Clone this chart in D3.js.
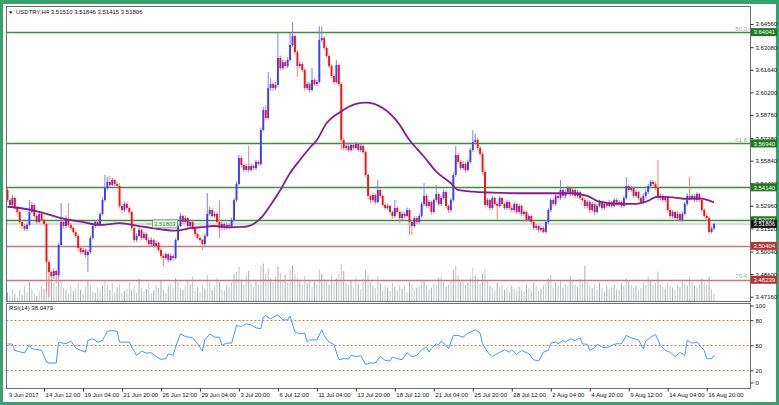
<!DOCTYPE html>
<html>
<head>
<meta charset="utf-8">
<script src="https://d3js.org/d3.v7.min.js"></script>
<style>
  body { margin: 0; background: #fff; }
  svg text { font-family: "Liberation Sans", Arial, sans-serif; font-size: 6px; fill: #111; }
</style>
</head>
<body>
<svg id="chart" width="779" height="405"></svg>
<script>
const d3 = window.d3;

// USDTRY H4, closes per bar (open = previous close)
const firstOpen = 3.5397;
const closes = [
  3.5333,3.5301,3.5346,3.5282,3.5257,3.5193,3.5167,3.5148,3.5174,3.5257,
  3.5301,3.5231,3.5193,3.5244,3.5206,3.5180,3.4937,3.4873,3.4848,3.4880,
  3.4854,3.5046,3.5193,3.5167,3.5212,3.5174,3.5155,3.5129,3.5104,3.5027,
  3.5001,3.5014,3.4982,3.5001,3.5091,3.5167,3.5193,3.5180,3.5244,3.5333,
  3.5410,3.5448,3.5429,3.5461,3.5435,3.5422,3.5295,3.5269,3.5308,3.5282,
  3.5257,3.5155,3.5078,3.5104,3.5142,3.5091,3.5116,3.5078,3.5052,3.5078,
  3.5040,3.5059,3.5014,3.4976,3.4963,3.4988,3.4950,3.4976,3.4963,3.5078,
  3.5167,3.5231,3.5193,3.5218,3.5167,3.5193,3.5155,3.5116,3.5091,3.5078,
  3.5052,3.5104,3.5244,3.5269,3.5231,3.5244,3.5193,3.5155,3.5180,3.5155,
  3.5174,3.5167,3.5206,3.5333,3.5435,3.5601,3.5556,3.5525,3.5550,3.5525,
  3.5550,3.5537,3.5576,3.5563,3.5780,3.5907,3.5856,3.6048,3.6073,3.6048,
  3.6067,3.6239,3.6175,3.6213,3.6188,3.6226,3.6322,3.6379,3.6277,3.6188,
  3.6201,3.6162,3.6048,3.6073,3.6035,3.6099,3.6073,3.6086,3.6354,3.6367,
  3.6303,3.6252,3.6188,3.6124,3.6086,3.6194,3.6073,3.5716,3.5665,3.5678,
  3.5652,3.5684,3.5665,3.5690,3.5652,3.5678,3.5639,3.5493,3.5359,3.5333,
  3.5365,3.5320,3.5397,3.5359,3.5301,3.5282,3.5295,3.5257,3.5231,3.5282,
  3.5257,3.5218,3.5244,3.5231,3.5269,3.5193,3.5167,3.5218,3.5193,3.5231,
  3.5308,3.5359,3.5295,3.5320,3.5257,3.5333,3.5371,3.5308,3.5346,3.5384,
  3.5295,3.5269,3.5333,3.5493,3.5620,3.5576,3.5537,3.5563,3.5525,3.5576,
  3.5652,3.5703,3.5716,3.5665,3.5627,3.5512,3.5301,3.5333,3.5282,3.5346,
  3.5308,3.5295,3.5346,3.5308,3.5282,3.5320,3.5282,3.5269,3.5308,3.5257,
  3.5295,3.5244,3.5257,3.5206,3.5231,3.5193,3.5155,3.5167,3.5142,3.5155,
  3.5129,3.5193,3.5269,3.5333,3.5308,3.5359,3.5346,3.5397,3.5359,3.5384,
  3.5410,3.5371,3.5397,3.5359,3.5384,3.5346,3.5333,3.5295,3.5320,3.5269,
  3.5308,3.5257,3.5295,3.5320,3.5282,3.5308,3.5295,3.5320,3.5295,3.5333,
  3.5308,3.5320,3.5295,3.5346,3.5422,3.5397,3.5410,3.5359,3.5384,3.5346,
  3.5320,3.5359,3.5384,3.5422,3.5448,3.5435,3.5410,3.5346,3.5359,3.5333,
  3.5346,3.5269,3.5231,3.5257,3.5218,3.5244,3.5206,3.5244,3.5308,3.5359,
  3.5346,3.5359,3.5333,3.5371,3.5333,3.5269,3.5231,3.5218,3.5129,3.5151,
  3.51806
];
const highs = [
  3.5410,3.5346,3.5365,3.5355,3.5295,3.5265,3.5205,3.5180,3.5185,3.5333,
  3.5320,3.5310,3.5240,3.5260,3.5255,3.5215,3.5190,3.4950,3.4885,3.4895,
  3.4890,3.5060,3.5314,3.5210,3.5235,3.5314,3.5185,3.5165,3.5140,3.5115,
  3.5040,3.5030,3.5025,3.5015,3.5105,3.5180,3.5205,3.5215,3.5255,3.5350,
  3.5493,3.5480,3.5486,3.5475,3.5470,3.5450,3.5440,3.5310,3.5325,3.5320,
  3.5295,3.5265,3.5165,3.5120,3.5160,3.5150,3.5130,3.5125,3.5090,3.5095,
  3.5085,3.5075,3.5065,3.5025,3.4990,3.5000,3.4995,3.4990,3.4985,3.5090,
  3.5180,3.5250,3.5240,3.5235,3.5225,3.5210,3.5200,3.5165,3.5125,3.5100,
  3.5085,3.5115,3.5378,3.5290,3.5280,3.5260,3.5255,3.5333,3.5195,3.5190,
  3.5190,3.5185,3.5220,3.5345,3.5450,3.5620,3.5615,3.5565,3.5565,3.5678,
  3.5565,3.5560,3.5590,3.5585,3.5795,3.5925,3.5940,3.6150,3.6110,3.6085,
  3.6085,3.6399,3.6255,3.6230,3.6225,3.6245,3.6399,3.6469,3.6390,3.6290,
  3.6220,3.6215,3.6175,3.6090,3.6085,3.6175,3.6110,3.6100,3.6443,3.6440,
  3.6380,3.6315,3.6265,3.6200,3.6135,3.6226,3.6205,3.6085,3.5730,3.5700,
  3.5690,3.5700,3.5695,3.5705,3.5700,3.5690,3.5690,3.5650,3.5505,3.5370,
  3.5380,3.5375,3.5461,3.5410,3.5370,3.5315,3.5310,3.5305,3.5265,3.5333,
  3.5295,3.5265,3.5260,3.5255,3.5285,3.5280,3.5205,3.5230,3.5230,3.5245,
  3.5320,3.5441,3.5370,3.5335,3.5330,3.5345,3.5429,3.5380,3.5360,3.5400,
  3.5395,3.5305,3.5345,3.5505,3.5678,3.5635,3.5590,3.5580,3.5575,3.5590,
  3.5665,3.5780,3.5755,3.5730,3.5680,3.5640,3.5525,3.5345,3.5345,3.5360,
  3.5355,3.5320,3.5360,3.5355,3.5320,3.5335,3.5330,3.5295,3.5320,3.5315,
  3.5310,3.5305,3.5270,3.5265,3.5245,3.5240,3.5200,3.5180,3.5175,3.5170,
  3.5165,3.5205,3.5280,3.5345,3.5345,3.5375,3.5370,3.5461,3.5410,3.5400,
  3.5425,3.5420,3.5410,3.5410,3.5400,3.5395,3.5360,3.5345,3.5335,3.5330,
  3.5320,3.5315,3.5310,3.5335,3.5330,3.5320,3.5320,3.5335,3.5330,3.5345,
  3.5345,3.5335,3.5330,3.5360,3.5480,3.5435,3.5425,3.5420,3.5400,3.5395,
  3.5360,3.5375,3.5400,3.5435,3.5461,3.5465,3.5450,3.5588,3.5375,3.5370,
  3.5360,3.5355,3.5280,3.5270,3.5265,3.5260,3.5255,3.5260,3.5320,3.5375,
  3.5480,3.5370,3.5370,3.5385,3.5380,3.5345,3.5280,3.5245,3.5230,3.5165,
  3.51846
];
const lows = [
  3.5320,3.5288,3.5290,3.5270,3.5240,3.5180,3.5150,3.5135,3.5138,3.5165,
  3.5245,3.5220,3.5180,3.5185,3.5195,3.5165,3.4740,3.4714,3.4835,3.4830,
  3.4800,3.4840,3.5035,3.5150,3.5155,3.5160,3.5140,3.5115,3.5090,3.5010,
  3.4985,3.4990,3.4965,3.4874,3.4990,3.5080,3.5155,3.5165,3.5170,3.5235,
  3.5320,3.5395,3.5415,3.5420,3.5420,3.5410,3.5280,3.5250,3.5255,3.5270,
  3.5240,3.5140,3.5060,3.5065,3.5095,3.5075,3.5080,3.5065,3.5040,3.5040,
  3.5025,3.5030,3.5000,3.4960,3.4912,3.4950,3.4935,3.4940,3.4945,3.4955,
  3.5070,3.5160,3.5180,3.5185,3.5150,3.5155,3.5140,3.5100,3.5080,3.5065,
  3.5014,3.5040,3.5095,3.5230,3.5220,3.5220,3.5180,3.5091,3.5140,3.5140,
  3.5145,3.5150,3.5155,3.5195,3.5320,3.5425,3.5540,3.5510,3.5515,3.5510,
  3.5515,3.5525,3.5525,3.5550,3.5550,3.5770,3.5840,3.5845,3.6030,3.6030,
  3.6035,3.6055,3.6160,3.6160,3.6170,3.6175,3.6215,3.6310,3.6260,3.6118,
  3.6175,3.6150,3.6030,3.6035,3.6020,3.6025,3.6060,3.6060,3.6075,3.6340,
  3.6290,3.6240,3.6175,3.6110,3.6070,3.6075,3.6060,3.5652,3.5650,3.5650,
  3.5640,3.5640,3.5650,3.5655,3.5640,3.5640,3.5625,3.5480,3.5340,3.5310,
  3.5320,3.5305,3.5310,3.5345,3.5290,3.5270,3.5270,3.5240,3.5215,3.5220,
  3.5245,3.5186,3.5205,3.5215,3.5220,3.5110,3.5110,3.5155,3.5180,3.5180,
  3.5220,3.5295,3.5280,3.5285,3.5240,3.5245,3.5320,3.5295,3.5295,3.5335,
  3.5280,3.5250,3.5255,3.5320,3.5480,3.5560,3.5520,3.5525,3.5510,3.5515,
  3.5565,3.5640,3.5690,3.5650,3.5610,3.5495,3.5285,3.5290,3.5265,3.5270,
  3.5295,3.5206,3.5285,3.5295,3.5270,3.5270,3.5270,3.5255,3.5255,3.5240,
  3.5245,3.5230,3.5230,3.5190,3.5195,3.5180,3.5140,3.5140,3.5125,3.5130,
  3.5120,3.5120,3.5180,3.5255,3.5295,3.5295,3.5330,3.5335,3.5345,3.5345,
  3.5370,3.5355,3.5360,3.5345,3.5345,3.5330,3.5320,3.5280,3.5280,3.5250,
  3.5255,3.5235,3.5245,3.5285,3.5270,3.5270,3.5280,3.5285,3.5280,3.5285,
  3.5295,3.5295,3.5280,3.5285,3.5335,3.5385,3.5385,3.5345,3.5345,3.5330,
  3.5305,3.5310,3.5345,3.5370,3.5410,3.5420,3.5395,3.5330,3.5330,3.5320,
  3.5320,3.5255,3.5215,3.5215,3.5200,3.5205,3.5195,3.5195,3.5235,3.5295,
  3.5330,3.5335,3.5320,3.5320,3.5320,3.5255,3.5215,3.5200,3.5115,3.5120,
  3.51415
];
const volumes = [
  300,180,420,260,150,380,220,500,310,640, 420,260,180,350,520,410,880,760,940,620,
  510,880,700,450,380,260,520,340,430,610, 390,250,480,720,560,330,290,460,380,520,
  690,540,380,620,300,470,560,280,350,420, 610,380,520,290,760,450,330,410,600,280,
  370,520,460,700,390,280,520,600,430,780, 640,450,380,520,710,560,820,340,470,300,
  560,420,880,630,380,520,780,640,410,360, 550,470,620,900,980,1150,720,560,840,1000,
  620,480,710,560,1180,1250,900,1100,760,640, 820,1150,940,700,880,620,1080,1200,900,760,
  680,540,840,620,720,500,660,580,1060,920, 740,680,560,880,640,760,900,1240,1000,620,
  540,700,460,820,580,400,760,1020,880,640, 520,440,840,600,380,520,460,340,620,480,
  360,540,420,500,300,640,560,380,460,520, 660,720,520,400,460,600,560,780,820,640,
  480,560,700,1040,1180,860,640,720,560,620, 800,1120,860,740,580,920,1060,700,520,440,
  360,620,480,540,380,460,300,520,420,360, 480,400,340,560,440,380,620,500,360,420,
  540,620,760,880,460,620,540,700,460,580, 520,820,660,560,480,740,580,1180,640,520,
  440,560,380,620,460,340,520,400,480,560, 420,380,600,520,780,660,540,460,520,380,
  440,600,540,820,700,560,620,980,560,480, 420,600,520,460,380,540,480,700,600,520,
  820,640,520,460,580,760,640,560,820,420, 260
];
// moving average, read at [bar, price]
const maPoints = [
  [0,3.5290],[5,3.5282],[13,3.5258],[22,3.5218],[30,3.5195],[38,3.5174],[46,3.5185],
  [54,3.5167],[63,3.5146],[69,3.5137],[75,3.5153],[79,3.5159],[85,3.5167],[91,3.5159],
  [97,3.5161],[104,3.5217],[108,3.5301],[112,3.5397],[116,3.5505],[120,3.5588],
  [124,3.5665],[127,3.5716],[131,3.5824],[136,3.5888],[143,3.5946],[147,3.5954],
  [154,3.5920],[160,3.5833],[165,3.5716],[171,3.5609],[176,3.5514],[182,3.5440],
  [185,3.5397],[191,3.5386],[199,3.5380],[210,3.5376],[224,3.5376],[231,3.5376],
  [238,3.5359],[243,3.5322],[251,3.5308],[258,3.5308],[262,3.5322],[267,3.5354],
  [273,3.5350],[279,3.5340],[284,3.5344],[290,3.5318]
];
// RSI(14), read at [bar, value]
const rsiPoints = [
  [0,51.5],[2,51.5],[3,43.6],[4,43],[7,40.6],[9,50.6],[10,45.8],[13,44.6],[14,43.8],[16,29.9],
  [17,28.7],[20,28.7],[21,53.7],[24,51.8],[26,55],[28,47],[30,43.8],[32,41.8],[33,55.7],[35,57.7],
  [37,53.7],[39,55.7],[41,66.8],[43,67.5],[45,66.8],[46,53.7],[50,53.7],[51,47.8],[53,37.9],[55,43],
  [57,40.6],[59,41],[61,36.6],[63,33],[65,33.9],[66,39.8],[68,37.9],[69,47.8],[71,63.6],[73,60.5],
  [76,58.9],[78,51.8],[80,43],[81,56.4],[83,63.6],[85,59.6],[87,59.6],[88,49.8],[90,52.5],[92,52.5],
  [94,73.6],[96,72.4],[98,75.6],[100,74.4],[102,70.9],[104,69.7],[105,83.6],[106,85.5],[108,81.5],[109,83.6],
  [111,86.3],[113,80.4],[115,80.4],[116,84.8],[118,65.7],[120,63.7],[122,64.5],[123,53.8],[124,56.4],[127,56.4],
  [129,68.5],[130,61.7],[132,53.7],[134,51],[136,32.7],[138,33.9],[140,33.5],[141,37.9],[143,36.6],[145,37.4],
  [147,27],[149,28.7],[151,28.7],[153,36.6],[155,31.9],[157,31],[158,35.9],[160,33.9],[162,32.7],[164,41],
  [166,35.9],[168,37.9],[170,44.6],[172,47.8],[173,41.8],[174,45.8],[176,51.8],[177,50.6],[178,55],[180,49.8],
  [181,45.8],[183,61.7],[185,61.7],[187,59.7],[189,64.5],[192,68.5],[194,64.5],[195,51.8],[197,41.8],[199,36.6],
  [201,39.8],[204,44.6],[206,41.8],[207,44.6],[209,39],[211,43.8],[214,39.8],[216,32.7],[218,31],[220,41.8],
  [222,43.8],[223,52.6],[225,53.8],[226,51.8],[228,55.7],[229,53.8],[231,57.7],[233,55.7],[235,58.9],[236,51.8],
  [238,51],[239,43.8],[241,47],[242,51],[244,47.8],[246,47],[248,49.8],[250,51.8],[252,51.8],[254,61.7],
  [256,58.9],[259,56.4],[261,45.8],[262,55],[264,59.6],[266,62.9],[268,49.8],[270,43.8],[272,41.8],[274,36.6],
  [276,41.4],[278,37.9],[279,55.7],[281,52.6],[283,53.8],[285,47],[286,43.8],[287,33.9],[289,33.9],[290,38]
];
const priceTicks = [3.64560,3.63080,3.61640,3.60200,3.58760,3.57280,3.55840,3.54400,3.52960,3.51520,3.50040,3.48600,3.47160];
const rsiTicks = [100, 80, 50, 20, 0];
const rsiLevels = [80, 50, 20];
const dateTicks = [0,15,31,47,63,79,95,111,127,143,159,175,191,207,223,239,255,271,287];
const dateNames = ["9 Jun 2017","14 Jun 12:00","19 Jun 04:00","21 Jun 20:00","26 Jun 12:00","29 Jun 04:00",
  "3 Jul 20:00","6 Jul 12:00","11 Jul 04:00","13 Jul 20:00","18 Jul 12:00","21 Jul 04:00","25 Jul 20:00",
  "28 Jul 12:00","2 Aug 04:00","4 Aug 20:00","9 Aug 12:00","14 Aug 04:00","16 Aug 20:00"];
const levelPrices = [3.64041, 3.56940, 3.54140, 3.52037, 3.50404, 3.48239];
const levelKinds = ["green","green","green","green","red","red"];
const fibNames = ["50.0","61.8","","","","76.4"];
const bidPrice = 3.51806;
const notePrice = 3.51803;

const svg = d3.select("#chart");
const PANEL = { left: 6.5, right: 750.5, top: 6.5, bottom: 301.5, rsiTop: 303.5, rsiBottom: 388.5 };

const x = d3.scaleLinear().domain([0, closes.length - 1]).range([7.5, 714]);
const y = d3.scaleLinear().domain([3.47160, 3.64560]).range([296.7, 24]);
const yVol = d3.scaleLinear().domain([0, 1300]).range([PANEL.bottom, 262]);
const yRsi = d3.scaleLinear().domain([0, 100]).range([387, 303.5]);

// outer green frame
svg.append("rect").attr("width", 779).attr("height", 405).attr("fill", "#38a06c");
svg.append("rect").attr("x", 3).attr("y", 4).attr("width", 773).attr("height", 398).attr("fill", "#fff");

// main panel
const main = svg.append("g");
main.append("rect").attr("x", PANEL.left).attr("y", PANEL.top)
  .attr("width", PANEL.right - PANEL.left).attr("height", PANEL.bottom - PANEL.top)
  .attr("fill", "#fff");

main.append("line").attr("x1", PANEL.left).attr("x2", PANEL.right)
  .attr("y1", y(bidPrice)).attr("y2", y(bidPrice))
  .attr("stroke", "#dcdcdc").attr("stroke-width", 2.5);

main.selectAll(".vol").data(volumes).join("line")
  .attr("class", "vol")
  .attr("x1", (d, i) => x(i)).attr("x2", (d, i) => x(i))
  .attr("y1", PANEL.bottom).attr("y2", (d) => yVol(d))
  .attr("stroke", (d, i) => (i % 3 === 0 ? "#a9adb1" : "#c3c6c9"))
  .attr("stroke-width", 1);

main.selectAll(".level").data(levelPrices).join("line")
  .attr("class", "level")
  .attr("x1", PANEL.left).attr("x2", PANEL.right)
  .attr("y1", (d) => Math.round(y(d)) + 0.5).attr("y2", (d) => Math.round(y(d)) + 0.5)
  .attr("stroke", (d, i) => (levelKinds[i] === "green" ? "#3f8d3f" : "#c47a7a"))
  .attr("stroke-width", (d, i) => (levelKinds[i] === "green" ? 1.3 : 1.6));

main.selectAll(".fib").data(levelPrices).join("text")
  .attr("class", "fib")
  .attr("x", 747).attr("y", (d) => y(d) - 1.5)
  .attr("text-anchor", "end")
  .style("fill", "#a8a8a8")
  .text((d, i) => fibNames[i]);

const bars = closes.map((c, i) => ({ i, o: i ? closes[i - 1] : firstOpen, c, h: highs[i], l: lows[i] }));

const candles = main.append("g");
candles.selectAll("line").data(bars).join("line")
  .attr("x1", (d) => x(d.i)).attr("x2", (d) => x(d.i))
  .attr("y1", (d) => y(d.h)).attr("y2", (d) => y(d.l))
  .attr("stroke", (d) => (d.c >= d.o ? "#7f7fff" : "#ff8080"))
  .attr("stroke-width", 1);
candles.selectAll("rect").data(bars).join("rect")
  .attr("x", (d) => x(d.i) - 0.95)
  .attr("width", 1.9)
  .attr("y", (d) => y(Math.max(d.o, d.c)))
  .attr("height", (d) => Math.max(1, Math.abs(y(d.o) - y(d.c))))
  .attr("fill", (d) => (d.c >= d.o ? "#3c3cff" : "#ff1010"));

main.append("path")
  .datum(maPoints)
  .attr("fill", "none")
  .attr("stroke", "#851f8c")
  .attr("stroke-width", 1.8)
  .attr("d", d3.line().x((d) => x(d[0])).y((d) => y(d[1])).curve(d3.curveMonotoneX));

// price note in chart
const note = main.append("g").attr("transform", `translate(152.5,${y(notePrice) - 4})`);
note.append("line").attr("x1", -6).attr("x2", -1).attr("y1", 4).attr("y2", 4).attr("stroke", "#9aa89a");
note.append("rect").attr("width", 25).attr("height", 8).attr("fill", "#eef6ee").attr("stroke", "#4f9a4f").attr("stroke-width", 0.8);
note.append("text").attr("x", 1.5).attr("y", 6.3).style("fill", "#2f7d2f").text(notePrice.toFixed(5));

// title
main.append("path").attr("d", "M9,11.5 L12.6,11.5 L10.8,13.8 Z").attr("fill", "#111");
main.append("text").attr("x", 16).attr("y", 14.2).text("USDTRY,H4  3.51510 3.51846 3.51415 3.51806");

main.append("rect").attr("x", PANEL.left).attr("y", PANEL.top)
  .attr("width", PANEL.right - PANEL.left).attr("height", PANEL.bottom - PANEL.top)
  .attr("fill", "none").attr("stroke", "#6e6e6e");

// price axis
const priceAxis = svg.append("g")
  .attr("transform", `translate(${PANEL.right},0)`)
  .call(d3.axisRight(y).tickValues(priceTicks).tickSize(3).tickPadding(2).tickFormat(d3.format(".5f")));
priceAxis.select(".domain").remove();
priceAxis.selectAll("line").attr("stroke", "#333");
priceAxis.selectAll("text").attr("font-size", null).attr("font-family", null);

const tags = svg.append("g");
const tagData = levelPrices.map((p, i) => ({ p, kind: levelKinds[i] })).concat([{ p: bidPrice, kind: "bid" }]);
const tagFill = { green: "#1f7a1f", red: "#b33434", bid: "#111" };
tags.selectAll("rect").data(tagData).join("rect")
  .attr("x", PANEL.right + 0.5).attr("y", (d) => y(d.p) - 4)
  .attr("width", 26).attr("height", 8)
  .attr("fill", (d) => tagFill[d.kind]);
tags.selectAll("text").data(tagData).join("text")
  .attr("x", PANEL.right + 3).attr("y", (d) => y(d.p) + 2.2)
  .style("fill", "#fff")
  .text((d) => d.p.toFixed(5));

// RSI panel
const rsiG = svg.append("g");
rsiG.append("rect").attr("x", PANEL.left).attr("y", PANEL.rsiTop)
  .attr("width", PANEL.right - PANEL.left).attr("height", PANEL.rsiBottom - PANEL.rsiTop)
  .attr("fill", "#fff");
rsiG.selectAll(".lvl").data(rsiLevels).join("line")
  .attr("class", "lvl")
  .attr("x1", PANEL.left).attr("x2", PANEL.right)
  .attr("y1", (d) => Math.round(yRsi(d)) + 0.5).attr("y2", (d) => Math.round(yRsi(d)) + 0.5)
  .attr("stroke", "#c8804a").attr("stroke-dasharray", "2,2");
rsiG.append("path")
  .datum(rsiPoints)
  .attr("fill", "none")
  .attr("stroke", "#3f9bff")
  .attr("stroke-width", 1)
  .attr("d", d3.line().x((d) => x(d[0])).y((d) => yRsi(d[1])));
rsiG.append("text").attr("x", 9).attr("y", 310).text("RSI(14) 38.0479");
rsiG.append("rect").attr("x", PANEL.left).attr("y", PANEL.rsiTop)
  .attr("width", PANEL.right - PANEL.left).attr("height", PANEL.rsiBottom - PANEL.rsiTop)
  .attr("fill", "none").attr("stroke", "#6e6e6e");

const rsiAxis = svg.append("g")
  .attr("transform", `translate(${PANEL.right},0)`)
  .call(d3.axisRight(yRsi).tickValues(rsiTicks).tickSize(3).tickPadding(2));
rsiAxis.select(".domain").remove();
rsiAxis.selectAll("line").attr("stroke", "#333");
rsiAxis.selectAll("text").attr("font-size", null).attr("font-family", null);
rsiAxis.selectAll(".tick").filter((d) => d === 100).attr("transform", "translate(0,306)");
rsiAxis.selectAll(".tick").filter((d) => d === 0).attr("transform", "translate(0,383)");

// time axis
const timeAxis = svg.append("g")
  .attr("transform", `translate(0,${PANEL.rsiBottom})`)
  .call(d3.axisBottom(x).tickValues(dateTicks).tickSize(3).tickPadding(1)
    .tickFormat((d, i) => dateNames[i]));
timeAxis.select(".domain").remove();
timeAxis.selectAll("line").attr("stroke", "#333");
timeAxis.selectAll("text").attr("font-size", null).attr("font-family", null)
  .attr("text-anchor", "start").attr("x", 1).attr("dy", "0.71em");
timeAxis.selectAll(".tick").filter((d) => d === 0).select("line").remove();
</script>
</body>
</html>
